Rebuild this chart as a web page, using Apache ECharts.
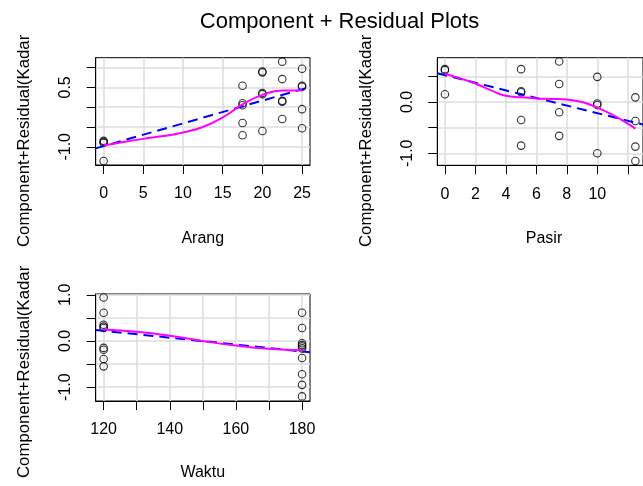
<!DOCTYPE html>
<html>
<head>
<meta charset="utf-8">
<script src="https://cdn.jsdelivr.net/npm/echarts@6.0.0/dist/echarts.min.js"></script>
<style>
  html, body { margin: 0; padding: 0; background: #fff; }
  #chart { width: 643px; height: 486px; }
</style>
</head>
<body>
<div id="chart"></div>
<script>
// 数据：Arang
const arangX = [0, 0, 0, 0, 17.5, 17.5, 17.5, 17.5, 17.5, 20, 20, 20, 20, 20, 22.5, 22.5, 22.5, 22.5, 22.5, 25, 25, 25, 25, 25];
const arangY = [-0.85, -0.88, -0.90, -1.36, 0.54, 0.10, 0.05, -0.40, -0.71, 0.90, 0.88, 0.36, 0.33, -0.60, 1.15, 0.71, 0.16, 0.14, -0.30, 0.97, 0.54, 0.52, -0.05, -0.53];
const arangFitX = [-1, 26];
const arangFitY = [-1.04, 0.51];
const arangSmoothX = [0, 2.5, 5, 7.5, 10, 12.5, 15, 17.5, 20, 22.5, 25];
const arangSmoothY = [-0.97, -0.88, -0.80, -0.73, -0.64, -0.50, -0.26, 0.07, 0.31, 0.42, 0.42];

// 数据：Pasir
const pasirX = [0, 0, 0, 5, 5, 5, 5, 5, 7.5, 7.5, 7.5, 7.5, 10, 10, 10, 10, 12.5, 12.5, 12.5, 12.5];
const pasirY = [0.64, 0.62, 0.15, 0.64, 0.21, 0.19, -0.35, -0.85, 0.79, 0.35, -0.20, -0.66, 0.49, -0.03, -0.06, -1.00, 0.09, -0.37, -0.87, -1.15];
const pasirFitX = [-0.5, 13];
const pasirFitY = [0.56, -0.44];
const pasirSmoothX = [0, 1, 2, 3, 4, 5, 6, 7, 8, 9, 10, 11, 12, 12.5];
const pasirSmoothY = [0.55, 0.46, 0.36, 0.23, 0.12, 0.09, 0.07, 0.06, 0.05, 0.0, -0.11, -0.25, -0.42, -0.52];

// 数据：Waktu
const waktuX = [120, 120, 120, 120, 120, 120, 120, 120, 120, 180, 180, 180, 180, 180, 180, 180, 180, 180, 180];
const waktuY = [0.94, 0.61, 0.35, 0.31, 0.28, -0.15, -0.19, -0.39, -0.55, 0.61, 0.28, -0.05, -0.09, -0.12, -0.16, -0.37, -0.72, -0.95, -1.20];
const waktuFitX = [117.6, 182.4];
const waktuFitY = [0.238, -0.245];
const waktuSmoothX = [120, 130, 140, 150, 160, 170, 180];
const waktuSmoothY = [0.25, 0.20, 0.115, 0.0, -0.10, -0.17, -0.20];

// 刻度
const arangXTicks = [0, 5, 10, 15, 20, 25];
const arangYTicks = [-1.0, -0.5, 0.0, 0.5, 1.0];
const arangYLabels = [-1.0, 0.5];
const pasirXTicks = [0, 2, 4, 6, 8, 10, 12];
const pasirXLabels = [0, 2, 4, 6, 8, 10];
const pasirYTicks = [-1.0, -0.5, 0.0, 0.5];
const pasirYLabels = [-1.0, 0.0];
const waktuXTicks = [120, 130, 140, 150, 160, 170, 180];
const waktuXLabels = [120, 140, 160, 180];
const waktuYTicks = [-1.0, -0.5, 0.0, 0.5, 1.0];
const waktuYLabels = [-1.0, 0.0, 1.0];

const FONT = "'Liberation Sans', Arial, sans-serif";
const zip = (xs, ys) => xs.map((x, i) => [x, ys[i]]);

function xAxisOf(gi, min, max, ticks, labels) {
  return {
    type: 'value', gridIndex: gi, min: min, max: max,
    axisLine: { show: true, onZero: false, lineStyle: { color: '#000', width: 1 } },
    axisTick: { show: true, length: 9, customValues: ticks, lineStyle: { color: '#000', width: 1 } },
    axisLabel: { customValues: labels, margin: 21, color: '#000', fontSize: 16, fontFamily: FONT },
    splitLine: { show: true, lineStyle: { color: '#dcdcdc', width: 1.5 } }
  };
}

function yAxisOf(gi, min, max, ticks, labels) {
  return {
    type: 'value', gridIndex: gi, min: min, max: max,
    axisLine: { show: true, onZero: false, lineStyle: { color: '#000', width: 1 } },
    axisTick: { show: true, length: 9, customValues: ticks, lineStyle: { color: '#000', width: 1 } },
    axisLabel: {
      customValues: labels, rotate: 90, margin: 22, color: '#000', fontSize: 16, fontFamily: FONT,
      formatter: v => v.toFixed(1)
    },
    splitLine: { show: true, lineStyle: { color: '#dcdcdc', width: 1.5 } }
  };
}

function panelSeries(i, px, py, fx, fy, sx, sy) {
  return [
    {
      type: 'scatter', xAxisIndex: i, yAxisIndex: i, data: zip(px, py),
      symbol: 'circle', symbolSize: 7.5,
      itemStyle: { color: 'rgba(0,0,0,0)', borderColor: '#000', borderWidth: 1.1 }
    },
    {
      type: 'line', xAxisIndex: i, yAxisIndex: i, data: zip(fx, fy), symbol: 'none',
      lineStyle: { color: '#0000ff', width: 2, type: [10, 6] }
    },
    {
      type: 'line', xAxisIndex: i, yAxisIndex: i, data: zip(sx, sy), symbol: 'none', smooth: 0.5,
      lineStyle: { color: '#ff00ff', width: 2 }
    }
  ];
}

const yName = 'Component+Residual(Kadar';
function yNameText(x, y) {
  return {
    type: 'text', x: x, y: y, rotation: Math.PI / 2,
    style: { text: yName, fontSize: 16.8, fontFamily: FONT, fill: '#000', align: 'left', verticalAlign: 'middle' }
  };
}
function xNameText(x, y, t) {
  return {
    type: 'text', x: x, y: y,
    style: { text: t, fontSize: 16, fontFamily: FONT, fill: '#000', align: 'center', verticalAlign: 'middle' }
  };
}

const option = {
  animation: false,
  backgroundColor: '#fff',
  grid: [
    { left: 95.7, top: 57.7, width: 214.3, height: 107.3, show: true, borderColor: '#000', borderWidth: 1 },
    { left: 437.3, top: 57.7, width: 214, height: 107.6, show: true, borderColor: '#000', borderWidth: 1 },
    { left: 95.7, top: 294, width: 214.3, height: 107, show: true, borderColor: '#000', borderWidth: 1 }
  ],
  xAxis: [
    xAxisOf(0, -1, 26, arangXTicks, arangXTicks),
    xAxisOf(1, -0.5, 13, pasirXTicks, pasirXLabels),
    xAxisOf(2, 117.6, 182.4, waktuXTicks, waktuXLabels)
  ],
  yAxis: [
    yAxisOf(0, -1.46, 1.25, arangYTicks, arangYLabels),
    yAxisOf(1, -1.234, 0.863, pasirYTicks, pasirYLabels),
    yAxisOf(2, -1.30, 1.017, waktuYTicks, waktuYLabels)
  ],
  series: [].concat(
    panelSeries(0, arangX, arangY, arangFitX, arangFitY, arangSmoothX, arangSmoothY),
    panelSeries(1, pasirX, pasirY, pasirFitX, pasirFitY, pasirSmoothX, pasirSmoothY),
    panelSeries(2, waktuX, waktuY, waktuFitX, waktuFitY, waktuSmoothX, waktuSmoothY)
  ),
  graphic: [
    {
      type: 'text', x: 339.5, y: 22,
      style: { text: 'Component + Residual Plots', fontSize: 22, fontFamily: FONT, fill: '#000', align: 'center', verticalAlign: 'middle' }
    },
    yNameText(24, 247),
    yNameText(366, 247),
    yNameText(24, 478),
    xNameText(202.8, 239, 'Arang'),
    xNameText(544, 239, 'Pasir'),
    xNameText(202.8, 473, 'Waktu')
  ]
};

const chart = echarts.init(document.getElementById('chart'));
chart.setOption(option);
</script>
</body>
</html>
